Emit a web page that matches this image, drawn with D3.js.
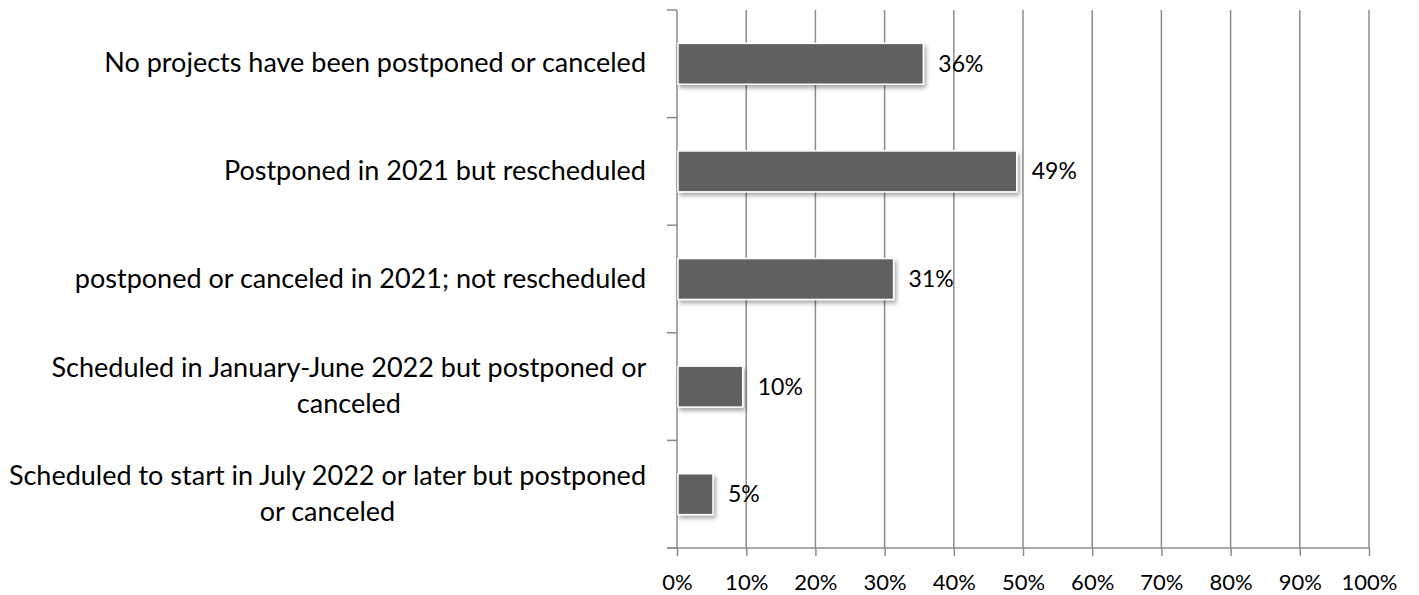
<!DOCTYPE html>
<html>
<head>
<meta charset="utf-8">
<script src="https://cdn.jsdelivr.net/npm/d3@7"></script>
<style>
  body { margin: 0; background: #fff; }
  text { font-family: Lato, "Open Sans", sans-serif; fill: #000; }
</style>
</head>
<body>
<div id="chart"></div>
<script>
// categories, top to bottom (line breaks as in the original)
const categories = [
    "No projects have been postponed or canceled",
    "Postponed in 2021 but rescheduled",
    "postponed or canceled in 2021; not rescheduled",
    "Scheduled in January-June 2022 but postponed or\ncanceled",
    "Scheduled to start in July 2022 or later but postponed\nor canceled"
];
const values = [35.6, 49.1, 31.3, 9.5, 5.2];
const tickValues = [0, 10, 20, 30, 40, 50, 60, 70, 80, 90, 100];

const config = {
    width: 1419,
    height: 595,
    margin: {top: 10, right: 50, bottom: 47, left: 677}
};
const innerW = config.width - config.margin.left - config.margin.right;
const innerH = config.height - config.margin.top - config.margin.bottom;

const svg = d3.select("#chart").append("svg")
    .attr("width", config.width)
    .attr("height", config.height);

const defs = svg.append("defs");
const shadow = defs.append("filter").attr("id", "shadow")
    .attr("x", "-10%").attr("y", "-20%").attr("width", "130%").attr("height", "160%");
shadow.append("feDropShadow")
    .attr("dx", 2).attr("dy", 3).attr("stdDeviation", 2)
    .attr("flood-color", "#000").attr("flood-opacity", 0.35);

const chart = svg.append("g")
    .attr("transform", `translate(${config.margin.left},${config.margin.top})`);

const x = d3.scaleLinear().domain([0, 100]).range([0, innerW]);
const y = d3.scaleBand().domain(categories).range([0, innerH]).paddingInner(0.62).paddingOuter(0.31);
const yEdges = d3.scaleLinear().domain([0, categories.length]).range([0, innerH]);

// vertical gridlines
chart.append("g")
    .selectAll("line")
    .data(tickValues.slice(1))
    .join("line")
    .attr("x1", d => x(d)).attr("x2", d => x(d))
    .attr("y1", 0).attr("y2", innerH)
    .attr("stroke", "#8c8c8c")
    .attr("stroke-width", 1.5);

// bottom axis
const xAxis = d3.axisBottom(x)
    .tickValues(tickValues)
    .tickFormat(d => d + "%")
    .tickSizeInner(8)
    .tickSizeOuter(0)
    .tickPadding(18);
const gx = chart.append("g")
    .attr("transform", `translate(0,${innerH})`)
    .call(xAxis);
gx.select(".domain").remove();
gx.append("line")
    .attr("x1", -10).attr("x2", innerW)
    .attr("stroke", "#8c8c8c").attr("stroke-width", 1.5);
gx.selectAll(".tick line").attr("stroke", "#8c8c8c").attr("stroke-width", 1.5);
gx.selectAll(".tick text")
    .style("font-family", "Lato, sans-serif")
    .style("font-size", "22px")
    .attr("fill", "#000");

// left axis line with ticks at band edges
const gy = chart.append("g");
gy.append("line")
    .attr("x1", 0).attr("x2", 0).attr("y1", 0).attr("y2", innerH)
    .attr("stroke", "#8c8c8c").attr("stroke-width", 1.5);
gy.selectAll("line.tk")
    .data(d3.range(categories.length + 1))
    .join("line")
    .attr("class", "tk")
    .attr("x1", -10).attr("x2", 0)
    .attr("y1", d => yEdges(d)).attr("y2", d => yEdges(d))
    .attr("stroke", "#8c8c8c").attr("stroke-width", 1.5);

// category labels
const lineH = 36;
const labels = chart.append("g")
    .selectAll("text")
    .data(categories)
    .join("text")
    .attr("text-anchor", "middle")
    .style("font-size", "27px")
    .attr("y", d => y(d) + y.bandwidth() / 2);
labels.each(function (d) {
    const lines = d.split("\n");
    const t = d3.select(this);
    lines.forEach((ln, i) => {
        t.append("tspan")
            .attr("dy", i === 0 ? ((-(lines.length - 1) / 2) * lineH + 8.5) : lineH)
            .text(ln);
    });
    // right-align the centred block against the axis
    const w = d3.max(t.selectAll("tspan").nodes(), n => n.getComputedTextLength());
    t.selectAll("tspan").attr("x", -31 - w / 2);
});

// bars
chart.append("g")
    .selectAll("rect")
    .data(values)
    .join("rect")
    .attr("x", 1)
    .attr("y", (d, i) => y(categories[i]))
    .attr("width", d => x(d) - 1)
    .attr("height", y.bandwidth())
    .attr("fill", "#606060")
    .attr("stroke", "#ffffff")
    .attr("stroke-width", 1.5)
    .attr("filter", "url(#shadow)");

// value labels
chart.append("g")
    .selectAll("text")
    .data(values)
    .join("text")
    .attr("x", d => x(d) + 15)
    .attr("y", (d, i) => y(categories[i]) + y.bandwidth() / 2 + 8)
    .style("font-size", "23px")
    .text(d => Math.round(d) + "%");
</script>
</body>
</html>
